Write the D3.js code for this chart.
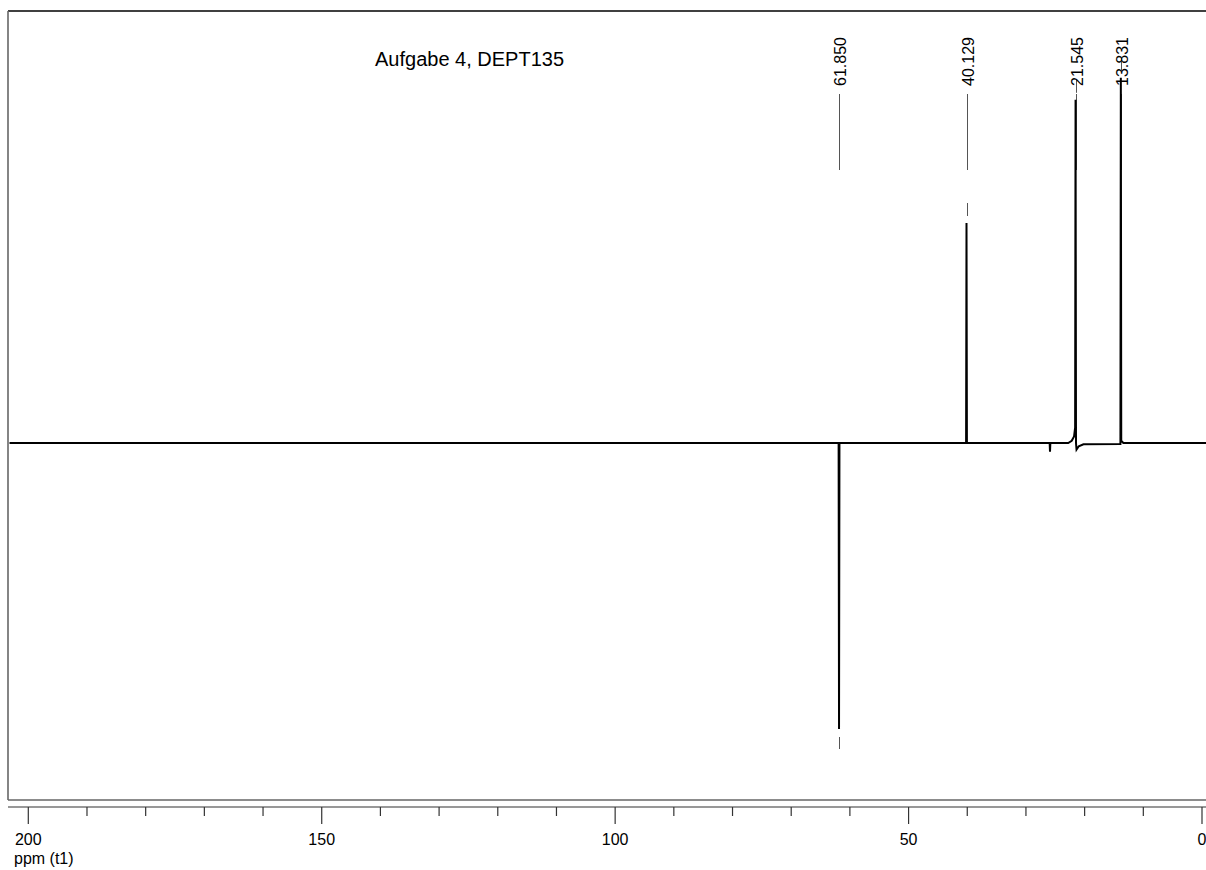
<!DOCTYPE html>
<html>
<head>
<meta charset="utf-8">
<script src="https://cdn.jsdelivr.net/npm/d3@7"></script>
<style>
  html, body { margin: 0; padding: 0; background: #fff; }
  svg { display: block; }
  text { font-family: "Liberation Sans", Arial, sans-serif; fill: #000; }
</style>
</head>
<body>
<svg id="chart" width="1206" height="870"></svg>
<script>
// ---- data ----
const title = "Aufgabe 4, DEPT135";
const axisLabel = "ppm (t1)";
const majorTicks = [200, 150, 100, 50, 0];
const minorTicks = [190, 180, 170, 160, 140, 130, 120, 110, 90, 80, 70, 60, 40, 30, 20, 10];

const peakPpm = [61.850, 40.129, 21.545, 13.831];
const peakLabels = ["61.850", "40.129", "21.545", "13.831"];
const peakHeight = [-130, 100, 156, 166];

// spectrum trace (ppm, intensity) incl. baseline features
const tracePpm = [203.2, 61.92, 61.85, 61.78, 40.2, 40.129, 40.06, 25.96, 25.9, 25.84,
                  22.8, 22.2, 21.8, 21.62, 21.545, 21.47, 21.38, 21.0, 20.2, 13.9, 13.831, 13.76, 13.4, -0.7];
const traceInt = [0, 0, -130, 0, 0, 100, 0, 0, -4, 0,
                  0, 1, 3, 7, 156, 0, -3, -1.5, -0.6, -0.5, 166, 1, 0, 0];

// ---- layout ----
const svg = d3.select("#chart");
const x = d3.scaleLinear().domain([200, 0]).range([28.3, 1202]);
const y = d3.scaleLinear().domain([0, 100]).range([443, 223]);

// frame
svg.append("line").attr("x1", 8).attr("x2", 1206).attr("y1", 11).attr("y2", 11)
  .attr("stroke", "#000").attr("stroke-width", 1.3);
svg.append("line").attr("x1", 8).attr("x2", 8).attr("y1", 11).attr("y2", 800)
  .attr("stroke", "#666").attr("stroke-width", 1.6);
svg.append("line").attr("x1", 8).attr("x2", 1206).attr("y1", 800).attr("y2", 800)
  .attr("stroke", "#666").attr("stroke-width", 1.3);

// axis
const axisY = 807;
svg.append("line").attr("x1", 8).attr("x2", 1206).attr("y1", axisY).attr("y2", axisY)
  .attr("stroke", "#333").attr("stroke-width", 1.2);
svg.selectAll(".minor").data(minorTicks).enter().append("line")
  .attr("x1", d => x(d)).attr("x2", d => x(d)).attr("y1", axisY).attr("y2", 816)
  .attr("stroke", "#333").attr("stroke-width", 1.2);
svg.selectAll(".major").data(majorTicks).enter().append("line")
  .attr("x1", d => x(d)).attr("x2", d => x(d)).attr("y1", axisY).attr("y2", 824)
  .attr("stroke", "#333").attr("stroke-width", 1.2);
svg.selectAll(".tl").data(majorTicks).enter().append("text")
  .attr("x", d => x(d)).attr("y", 845).attr("text-anchor", "middle")
  .attr("font-size", 16).text(d => d);
svg.append("text").attr("x", 14).attr("y", 864).attr("font-size", 16).text(axisLabel);

// title
svg.append("text").attr("x", 375).attr("y", 66).attr("font-size", 20).text(title);

// peak label connector lines & markers
peakPpm.forEach((p, i) => {
  const px = Math.round(x(p)) + 0.5;
  svg.append("line").attr("x1", px).attr("x2", px).attr("y1", 94).attr("y2", 170)
    .attr("stroke", "#555").attr("stroke-width", 1);
  const top = y(peakHeight[i]);
  const m1 = peakHeight[i] > 0 ? top - 7 : top + 8;
  const m2 = peakHeight[i] > 0 ? top - 20 : top + 20;
  svg.append("line").attr("x1", px).attr("x2", px).attr("y1", m1).attr("y2", m2)
    .attr("stroke", "#555").attr("stroke-width", 1);
  svg.append("text")
    .attr("transform", `translate(${px + 6},86) rotate(-90)`)
    .attr("font-size", 16).attr("text-anchor", "start").text(peakLabels[i]);
});

// spectrum
const trace = tracePpm.map((p, i) => [p, traceInt[i]]);
svg.append("path").datum(trace)
  .attr("d", d3.line().x(d => x(d[0])).y(d => y(d[1])))
  .attr("fill", "none").attr("stroke", "#000").attr("stroke-width", 2)
  .attr("stroke-linejoin", "miter");
</script>
</body>
</html>
